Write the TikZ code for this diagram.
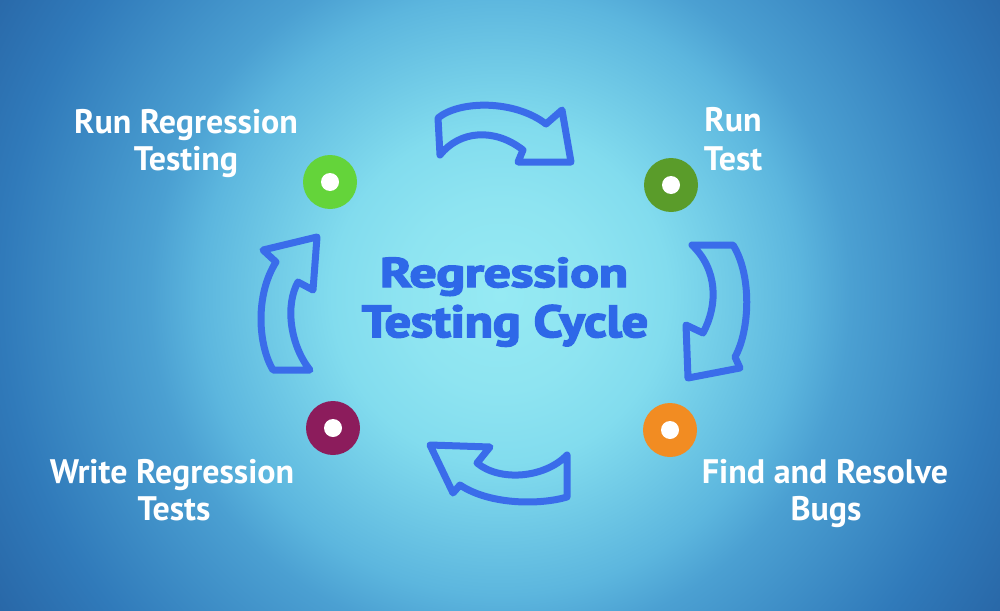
\documentclass[tikz,border=0pt]{standalone}
\usepackage{fontspec}
\setmainfont{PT Sans}
\usepackage{graphicx}
\definecolor{bg0}{RGB}{150,234,243}
\definecolor{bg1}{RGB}{142,228,241}
\definecolor{bg2}{RGB}{130,220,238}
\definecolor{bg3}{RGB}{92,182,222}
\definecolor{bg4}{RGB}{75,160,210}
\definecolor{bg5}{RGB}{48,122,186}
\definecolor{bg6}{RGB}{40,102,166}
\definecolor{arrowblue}{RGB}{58,108,234}
\definecolor{titleblue}{RGB}{46,104,232}
\definecolor{dotgreen}{RGB}{100,212,58}
\definecolor{dotdkgreen}{RGB}{90,156,42}
\definecolor{dotmaroon}{RGB}{140,28,92}
\definecolor{dotorange}{RGB}{242,140,34}
\pgfdeclareradialshading{bgshade}{\pgfpoint{0bp}{0bp}}{color(0bp)=(bg0); color(4bp)=(bg1); color(7bp)=(bg2); color(12.5bp)=(bg3); color(14.6bp)=(bg4); color(20.8bp)=(bg5); color(25bp)=(bg6); color(50bp)=(bg6)}
\newcommand{\heavytext}[1]{\special{pdf:literal 2 Tr 0.35 w}#1\special{pdf:literal 0 Tr}}
\begin{document}
\begin{tikzpicture}[x=1pt,y=-1pt,
  arrowshape/.style={draw=arrowblue, line width=7pt, line join=round, line cap=round},
  dot/.style={circle, inner sep=0pt, minimum size=54pt},
  hole/.style={circle, fill=white, inner sep=0pt, minimum size=18pt},
  lbl/.style={text=white, font=\fontsize{34}{40}\selectfont\bfseries, anchor=base, inner sep=0pt},
  ttl/.style={text=titleblue, font=\bfseries, anchor=base, inner sep=0pt}]
\useasboundingbox (0,0) rectangle (1000,610);
\fill[bg6] (0,0) rectangle (1000,610);
\begin{scope}
  \clip (0,0) rectangle (1000,610);
  \shade[shading=bgshade] (500,295) circle (600);
\end{scope}

% title
\node[ttl] (t1) at (504,287) {\resizebox{248pt}{29.5pt}{\heavytext{Regression}}};
\node[ttl] (t2) at (505,337) {\resizebox{286pt}{32pt}{\heavytext{Testing Cycle}}};

% arrows
% top
\draw[arrowshape] (438,118) .. controls (460,100) and (515,100) .. (546,124)
  -- (562,110) -- (571,162) -- (518,162) -- (523,150)
  .. controls (495,128) and (460,130) .. (440,155) -- cycle;
% right
\draw[arrowshape] (692,245) -- (733,245)
  .. controls (752,275) and (750,330) .. (735,357)
  -- (740,368) -- (688,378) -- (686,325) -- (703,333)
  .. controls (718,305) and (718,270) .. (692,245) -- cycle;
% bottom
\draw[arrowshape] (567,455) -- (567,497)
  .. controls (540,505) and (490,505) .. (460,485)
  -- (453,493) -- (430,445) -- (490,447) -- (477,463)
  .. controls (500,482) and (545,478) .. (567,455) -- cycle;
% left
\draw[arrowshape] (317,237) -- (263,250) -- (276,262)
  .. controls (255,295) and (258,345) .. (273,370)
  -- (310,370)
  .. controls (290,345) and (285,305) .. (298,282)
  -- (313,290) -- cycle;

% dots
\node[dot, fill=dotgreen] (d1) at (330,182) {};
\node[hole] (h1) at (d1) {};
\node[dot, fill=dotdkgreen] (d2) at (671,185) {};
\node[hole] (h2) at (d2) {};
\node[dot, fill=dotmaroon] (d3) at (333,428) {};
\node[hole] (h3) at (d3) {};
\node[dot, fill=dotorange] (d4) at (670,430) {};
\node[hole] (h4) at (d4) {};

% labels
\node[lbl] (l1a) at (186,133) {Run Regression};
\node[lbl] (l1b) at (186,170) {Testing};
\node[lbl] (l2a) at (733,131) {Run};
\node[lbl] (l2b) at (733,170) {Test};
\node[lbl] (l3a) at (172,483) {Write Regression};
\node[lbl] (l3b) at (174,520) {Tests};
\node[lbl] (l4a) at (825,483) {Find and Resolve};
\node[lbl] (l4b) at (826,520) {Bugs};
\end{tikzpicture}
\end{document}
